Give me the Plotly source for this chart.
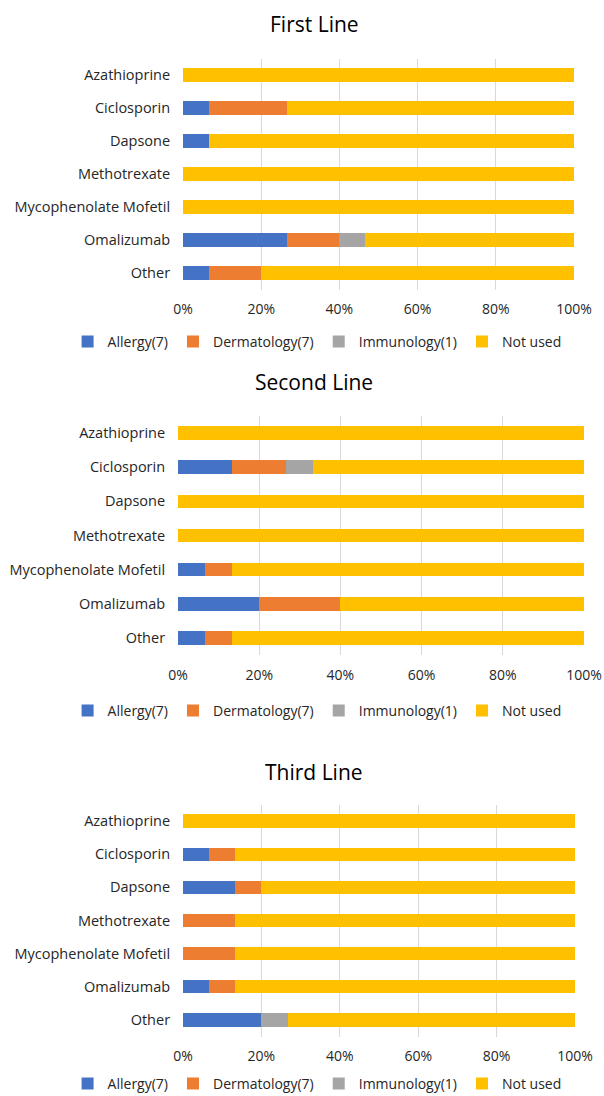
import plotly.graph_objects as go

# ---- data (respondent counts out of 15; shown as % of total) ----
categories = ["Azathioprine", "Ciclosporin", "Dapsone", "Methotrexate",
              "Mycophenolate Mofetil", "Omalizumab", "Other"]
series_names = ["Allergy(7)", "Dermatology(7)", "Immunology(1)", "Not used"]
panel_titles = ["First Line", "Second Line", "Third Line"]

first_allergy = [0, 1, 1, 0, 0, 4, 1]
first_derm = [0, 3, 0, 0, 0, 2, 2]
first_immun = [0, 0, 0, 0, 0, 1, 0]
first_notused = [15, 11, 14, 15, 15, 8, 12]

second_allergy = [0, 2, 0, 0, 1, 3, 1]
second_derm = [0, 2, 0, 0, 1, 3, 1]
second_immun = [0, 1, 0, 0, 0, 0, 0]
second_notused = [15, 10, 15, 15, 13, 9, 13]

third_allergy = [0, 1, 2, 0, 0, 1, 3]
third_derm = [0, 1, 1, 2, 2, 1, 0]
third_immun = [0, 0, 0, 0, 0, 0, 1]
third_notused = [15, 13, 12, 13, 13, 13, 11]

tick_values = [0, 20, 40, 60, 80, 100]
tick_labels = ["0%", "20%", "40%", "60%", "80%", "100%"]

# ---- styling ----
W, H = 604, 1096
colors = ["#4472C4", "#ED7D31", "#A5A5A5", "#FFC000"]
FONT = "Open Sans"

panels = [
    [first_allergy, first_derm, first_immun, first_notused],
    [second_allergy, second_derm, second_immun, second_notused],
    [third_allergy, third_derm, third_immun, third_notused],
]
# pixel geometry of each plot area: (x0, x1, ytop, ybottom), title y, legend y
geom = [
    ((183, 574, 58.5, 289.5), 24, 342),
    ((178, 584, 416, 655), 382, 711),
    ((183, 575, 804.5, 1036.5), 772, 1084),
]


def py(p):
    return 1 - p / H


fig = go.Figure()
layout = dict(
    width=W, height=H,
    margin=dict(l=0, r=0, t=0, b=0, autoexpand=False),
    paper_bgcolor="white", plot_bgcolor="white",
    barmode="stack", barnorm="percent", bargap=0.6,
    font=dict(family=FONT, size=14, color="#262626"),
    showlegend=True,
    annotations=[],
)

for i, (vals, (box, ty, ly)) in enumerate(zip(panels, geom)):
    sfx = "" if i == 0 else str(i + 1)
    lg = "legend" if i == 0 else f"legend{i + 1}"
    for name, v, c in zip(series_names, vals, colors):
        fig.add_trace(go.Bar(
            y=categories, x=v, name=name, orientation="h",
            marker=dict(color=c, line=dict(width=0)),
            xaxis="x" + sfx, yaxis="y" + sfx, legend=lg,
        ))
    x0, x1, yt, yb = box
    layout["xaxis" + sfx] = dict(
        domain=[x0 / W, x1 / W], anchor="y" + sfx, range=[0, 100],
        tickvals=tick_values, ticktext=tick_labels, automargin=False,
        showgrid=True, gridcolor="#D9D9D9", gridwidth=1,
        zeroline=False, showline=False,
        ticks="outside", ticklen=7, tickcolor="rgba(0,0,0,0)",
        tickfont=dict(size=14, color="#262626"), fixedrange=True,
    )
    layout["yaxis" + sfx] = dict(
        domain=[py(yb), py(yt)], anchor="x" + sfx, automargin=False,
        categoryorder="array", categoryarray=categories,
        autorange="reversed", showgrid=False, zeroline=False, showline=False,
        ticks="outside", ticklen=9, tickcolor="rgba(0,0,0,0)",
        tickfont=dict(size=14.5, color="#262626"), fixedrange=True,
    )
    layout[lg] = dict(
        orientation="h", x=0.525, xanchor="center", y=py(ly), yanchor="middle",
        font=dict(size=14, color="#262626"), bgcolor="rgba(0,0,0,0)",
        itemwidth=30, traceorder="normal", tracegroupgap=0,
    )
    layout["annotations"].append(dict(
        text=panel_titles[i], x=0.52, y=py(ty), xref="paper", yref="paper",
        xanchor="center", yanchor="middle", showarrow=False,
        font=dict(size=21, color="#000000", family=FONT),
    ))

fig.update_layout(**layout)
fig.write_html("out.html", config={"displayModeBar": False},
               post_script="document.body.style.margin='0';")
